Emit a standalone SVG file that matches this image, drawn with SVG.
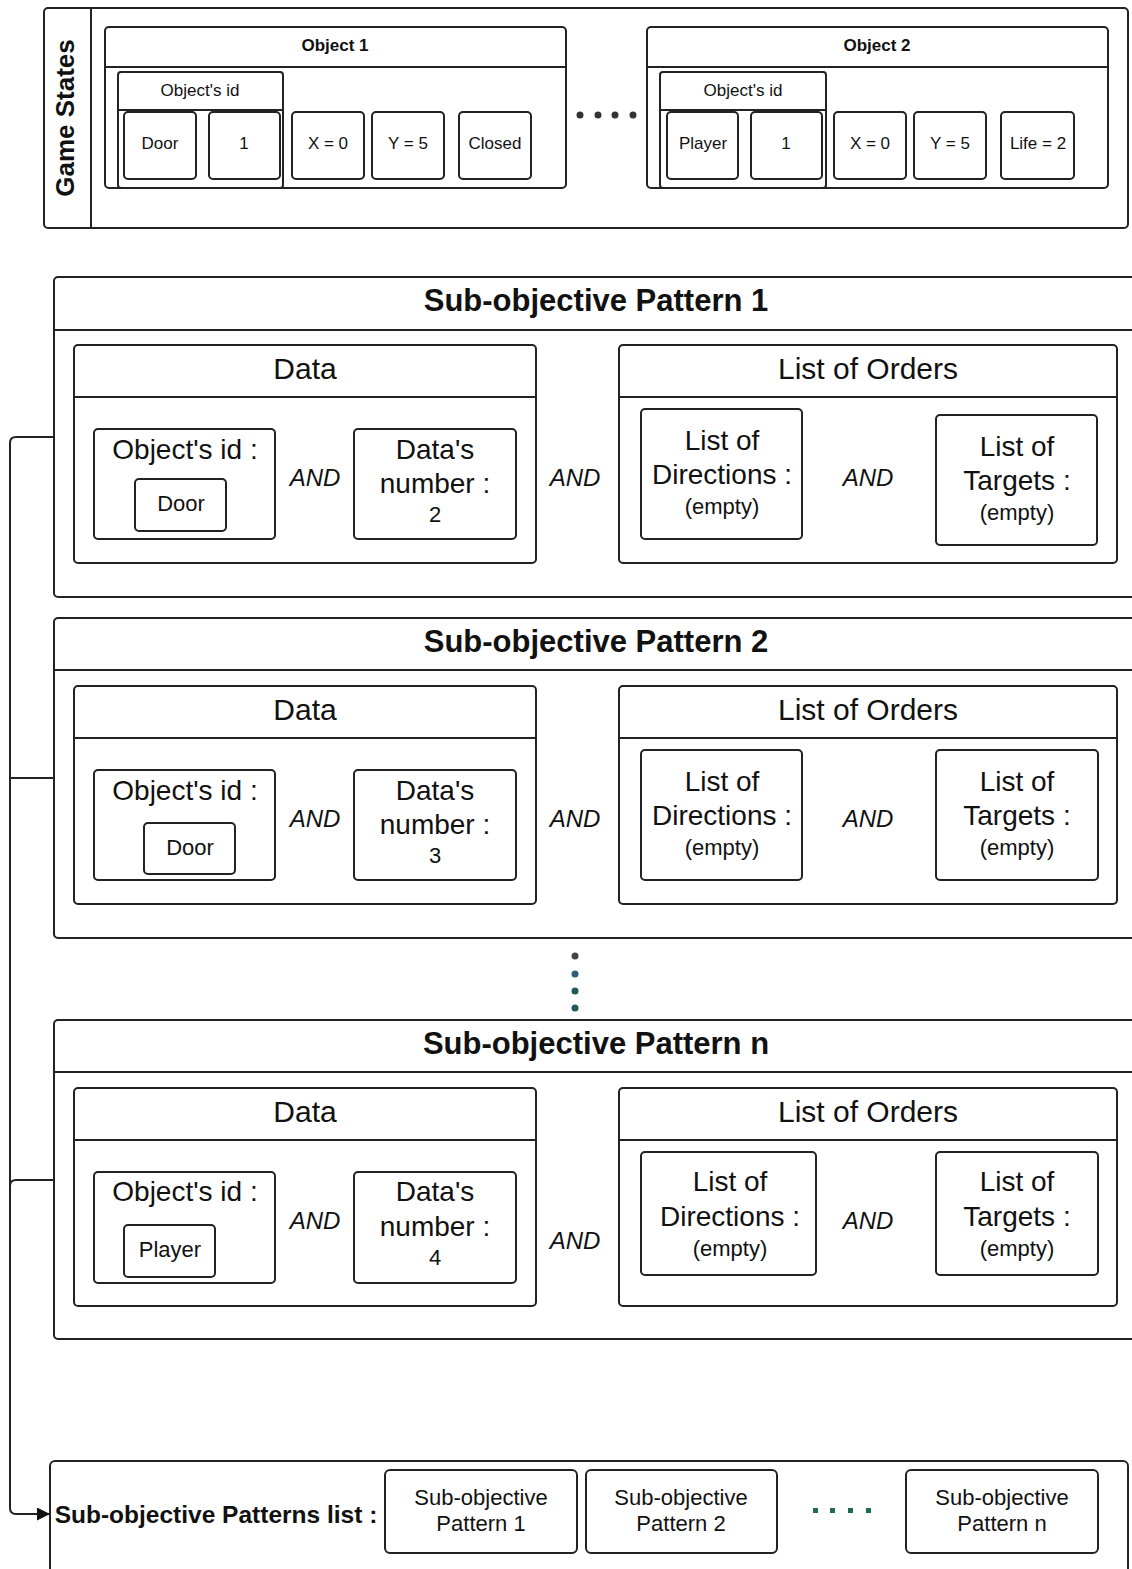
<svg xmlns="http://www.w3.org/2000/svg" width="1132" height="1569" viewBox="0 0 1132 1569">
<defs>
<style>
.b{fill:#fff;stroke:#222;stroke-width:2}
.h{fill:#fafafa;stroke:#222;stroke-width:2}
.l{fill:none;stroke:#222;stroke-width:2}
text{font-family:"Liberation Sans",Arial,sans-serif;fill:#111;text-anchor:middle;dominant-baseline:central}
.t17{font-size:17px}
.b17{font-size:17px;font-weight:bold}
.big{font-size:31px;font-weight:bold}
.hd{font-size:30px}
.md{font-size:28px}
.sm{font-size:22px}
.and{font-size:24px;font-style:italic}
</style>
<marker id="arr" viewBox="0 0 10 10" refX="10" refY="5" markerWidth="13" markerHeight="13" markerUnits="userSpaceOnUse" orient="auto"><path d="M0,0 L10,5 L0,10 z" fill="#111"/></marker>
</defs>
<rect width="1132" height="1569" fill="#fff"/>

<g id="game-states">
<rect class="b" x="44" y="8" width="1084" height="220" rx="4"/>
<line class="l" x1="91" y1="8" x2="91" y2="228"/>
<text transform="translate(65,118) rotate(-90)" style="font-size:26px;font-weight:bold">Game States</text>
</g>

<g id="object1">
<rect class="b" x="105" y="27" width="461" height="161" rx="4"/>
<line class="l" x1="105" y1="67" x2="566" y2="67"/>
<text class="b17" x="335" y="45">Object 1</text>
<rect class="b" x="118" y="72" width="165" height="116" rx="3"/>
<line class="l" x1="118" y1="110" x2="283" y2="110"/>
<text class="t17" x="200" y="90">Object's id</text>
<rect class="b" x="124" y="112" width="72" height="67" rx="4"/><text class="t17" x="160" y="143">Door</text>
<rect class="b" x="209" y="112" width="71" height="67" rx="4"/><text class="t17" x="244" y="143">1</text>
<rect class="b" x="292" y="112" width="72" height="67" rx="4"/><text class="t17" x="328" y="143">X = 0</text>
<rect class="b" x="372" y="112" width="72" height="67" rx="4"/><text class="t17" x="408" y="143">Y = 5</text>
<rect class="b" x="459" y="112" width="72" height="67" rx="4"/><text class="t17" x="495" y="143">Closed</text>
</g>

<g id="dots-top" fill="#333">
<circle cx="580" cy="115" r="3.5"/><circle cx="598" cy="115" r="3.5"/><circle cx="615" cy="115" r="3.5"/><circle cx="633" cy="115" r="3.5"/>
</g>

<g id="object2">
<rect class="b" x="647" y="27" width="461" height="161" rx="4"/>
<line class="l" x1="647" y1="67" x2="1108" y2="67"/>
<text class="b17" x="877" y="45">Object 2</text>
<rect class="b" x="660" y="72" width="166" height="116" rx="3"/>
<line class="l" x1="660" y1="110" x2="826" y2="110"/>
<text class="t17" x="743" y="90">Object's id</text>
<rect class="b" x="667" y="112" width="71" height="67" rx="4"/><text class="t17" x="703" y="143">Player</text>
<rect class="b" x="751" y="112" width="71" height="67" rx="4"/><text class="t17" x="786" y="143">1</text>
<rect class="b" x="834" y="112" width="72" height="67" rx="4"/><text class="t17" x="870" y="143">X = 0</text>
<rect class="b" x="914" y="112" width="72" height="67" rx="4"/><text class="t17" x="950" y="143">Y = 5</text>
<rect class="b" x="1001" y="112" width="73" height="67" rx="4"/><text class="t17" x="1038" y="143">Life = 2</text>
</g>

<g id="pattern1">
<rect class="b" x="54" y="277" width="1090" height="320" rx="4"/>
<line class="l" x1="54" y1="330" x2="1132" y2="330"/>
<text class="big" x="596" y="300">Sub-objective Pattern 1</text>
<rect class="b" x="74" y="345" width="462" height="218" rx="4"/>
<line class="l" x1="74" y1="397" x2="536" y2="397"/>
<text class="hd" x="305" y="368">Data</text>
<rect class="b" x="94" y="429" width="181" height="110" rx="4"/>
<text class="md" x="185" y="449">Object's id :</text>
<rect class="b" x="135" y="479" width="91" height="52" rx="4"/><text class="sm" x="181" y="503">Door</text>
<text class="and" x="315" y="477">AND</text>
<rect class="b" x="354" y="429" width="162" height="110" rx="4"/>
<text class="md" x="435" y="449">Data's</text>
<text class="md" x="435" y="483">number :</text>
<text class="sm" x="435" y="514">2</text>
<text class="and" x="575" y="477">AND</text>
<rect class="b" x="619" y="345" width="498" height="218" rx="4"/>
<line class="l" x1="619" y1="397" x2="1117" y2="397"/>
<text class="hd" x="868" y="368">List of Orders</text>
<rect class="b" x="641" y="409" width="161" height="130" rx="4"/>
<text class="md" x="722" y="440">List of</text>
<text class="md" x="722" y="474">Directions :</text>
<text class="sm" x="722" y="506">(empty)</text>
<text class="and" x="868" y="477">AND</text>
<rect class="b" x="936" y="415" width="161" height="130" rx="4"/>
<text class="md" x="1017" y="446">List of</text>
<text class="md" x="1017" y="480">Targets :</text>
<text class="sm" x="1017" y="512">(empty)</text>
</g>

<g id="pattern2">
<rect class="b" x="54" y="618" width="1090" height="320" rx="4"/>
<line class="l" x1="54" y1="670" x2="1132" y2="670"/>
<text class="big" x="596" y="641">Sub-objective Pattern 2</text>
<rect class="b" x="74" y="686" width="462" height="218" rx="4"/>
<line class="l" x1="74" y1="738" x2="536" y2="738"/>
<text class="hd" x="305" y="709">Data</text>
<rect class="b" x="94" y="770" width="181" height="110" rx="4"/>
<text class="md" x="185" y="790">Object's id :</text>
<rect class="b" x="144" y="823" width="91" height="51" rx="4"/><text class="sm" x="190" y="847">Door</text>
<text class="and" x="315" y="818">AND</text>
<rect class="b" x="354" y="770" width="162" height="110" rx="4"/>
<text class="md" x="435" y="790">Data's</text>
<text class="md" x="435" y="824">number :</text>
<text class="sm" x="435" y="855">3</text>
<text class="and" x="575" y="818">AND</text>
<rect class="b" x="619" y="686" width="498" height="218" rx="4"/>
<line class="l" x1="619" y1="738" x2="1117" y2="738"/>
<text class="hd" x="868" y="709">List of Orders</text>
<rect class="b" x="641" y="750" width="161" height="130" rx="4"/>
<text class="md" x="722" y="781">List of</text>
<text class="md" x="722" y="815">Directions :</text>
<text class="sm" x="722" y="847">(empty)</text>
<text class="and" x="868" y="818">AND</text>
<rect class="b" x="936" y="750" width="162" height="130" rx="4"/>
<text class="md" x="1017" y="781">List of</text>
<text class="md" x="1017" y="815">Targets :</text>
<text class="sm" x="1017" y="847">(empty)</text>
</g>

<g id="dots-vertical">
<circle cx="575" cy="956" r="3.5" fill="#444"/><circle cx="575" cy="974" r="3.5" fill="#2a5f7a"/><circle cx="575" cy="991" r="3.5" fill="#1f5a5a"/><circle cx="575" cy="1008" r="3.5" fill="#1f5a5a"/>
</g>

<g id="patternn">
<rect class="b" x="54" y="1020" width="1090" height="319" rx="4"/>
<line class="l" x1="54" y1="1072" x2="1132" y2="1072"/>
<text class="big" x="596" y="1043">Sub-objective Pattern n</text>
<rect class="b" x="74" y="1088" width="462" height="218" rx="4"/>
<line class="l" x1="74" y1="1140" x2="536" y2="1140"/>
<text class="hd" x="305" y="1111">Data</text>
<rect class="b" x="94" y="1172" width="181" height="111" rx="4"/>
<text class="md" x="185" y="1191">Object's id :</text>
<rect class="b" x="124" y="1225" width="91" height="52" rx="4"/><text class="sm" x="170" y="1249">Player</text>
<text class="and" x="315" y="1220">AND</text>
<rect class="b" x="354" y="1172" width="162" height="111" rx="4"/>
<text class="md" x="435" y="1191">Data's</text>
<text class="md" x="435" y="1226">number :</text>
<text class="sm" x="435" y="1257">4</text>
<text class="and" x="575" y="1240">AND</text>
<rect class="b" x="619" y="1088" width="498" height="218" rx="4"/>
<line class="l" x1="619" y1="1140" x2="1117" y2="1140"/>
<text class="hd" x="868" y="1111">List of Orders</text>
<rect class="b" x="641" y="1152" width="175" height="123" rx="4"/>
<text class="md" x="730" y="1181">List of</text>
<text class="md" x="730" y="1216">Directions :</text>
<text class="sm" x="730" y="1248">(empty)</text>
<text class="and" x="868" y="1220">AND</text>
<rect class="b" x="936" y="1152" width="162" height="123" rx="4"/>
<text class="md" x="1017" y="1181">List of</text>
<text class="md" x="1017" y="1216">Targets :</text>
<text class="sm" x="1017" y="1248">(empty)</text>
</g>

<g id="patterns-list">
<rect class="b" x="50" y="1461" width="1078" height="120" rx="5"/>
<text x="216" y="1514" style="font-size:24.5px;font-weight:bold">Sub-objective Patterns list :</text>
<rect class="b" x="385" y="1470" width="192" height="83" rx="5"/>
<text class="sm" x="481" y="1497">Sub-objective</text><text class="sm" x="481" y="1523">Pattern 1</text>
<rect class="b" x="586" y="1470" width="191" height="83" rx="5"/>
<text class="sm" x="681" y="1497">Sub-objective</text><text class="sm" x="681" y="1523">Pattern 2</text>
<g fill="#1f6b4f"><rect x="813" y="1508" width="5" height="5"/><rect x="830" y="1508" width="5" height="5"/><rect x="848" y="1508" width="5" height="5"/><rect x="866" y="1508" width="5" height="5"/></g>
<rect class="b" x="906" y="1470" width="192" height="83" rx="5"/>
<text class="sm" x="1002" y="1497">Sub-objective</text><text class="sm" x="1002" y="1523">Pattern n</text>
</g>

<g id="connectors">
<path class="l" d="M54,437 H16 Q10,437 10,443 V1508 Q10,1514 16,1514 H50" marker-end="url(#arr)"/>
<path class="l" d="M54,778 H10"/>
<path class="l" d="M54,1180 H16 Q10,1180 10,1186"/>
</g>
</svg>
